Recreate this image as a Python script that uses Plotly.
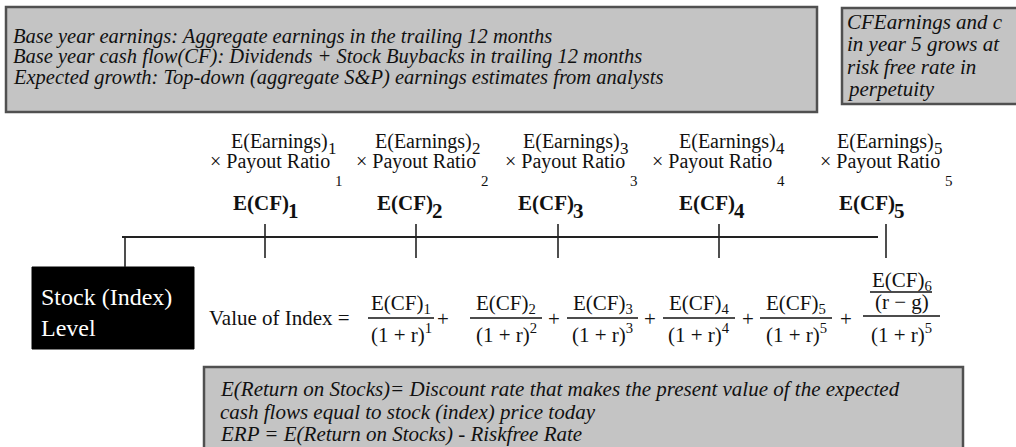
import plotly.graph_objects as go

W, H = 1016, 447

# ---- content ----
years = [1, 2, 3, 4, 5]
top_notes = [
    "Base year earnings: Aggregate earnings in the trailing 12 months",
    "Base year cash flow(CF): Dividends + Stock Buybacks in trailing 12 months",
    "Expected growth: Top-down (aggregate S&P) earnings estimates from analysts",
]
side_note = ["CFEarnings and c", "in year 5 grows at", "risk free rate in", "perpetuity"]
bottom_notes = [
    "E(Return on Stocks)= Discount rate that makes the present value of the expected",
    "cash flows equal to stock (index) price today",
    "ERP = E(Return on Stocks) - Riskfree Rate",
]
stock_label = ["Stock (Index)", "Level"]
formula_label = "Value of Index ="
earn_text = "E(Earnings)"
payout_text = "× Payout Ratio"
cf_text = "E(CF)"
denom_powers = [1, 2, 3, 4, 5]

# ---- layout positions ----
tick_x = [265, 416, 558, 719, 886]
earn_end = [329, 473, 621, 777, 935]
payout_end = [331, 477, 626, 773, 941]
cf_end = [287, 431, 572, 733, 893]
frac_x = [(368, 434), (470, 542), (567, 638), (663, 735), (760, 832)]
plus_x = [443, 554, 650, 748, 846]

SERIF = "Liberation Serif"
ink = "#111111"
box_fill = "#c4c4c4"
box_line = "#505050"

fig = go.Figure()
fig.add_trace(go.Scatter(x=[0, W], y=[0, H], mode="markers",
                         marker=dict(opacity=0), hoverinfo="skip", showlegend=False))

shapes = []
ann = []

def box(x0, y0, x1, y1, fill, line, lw=2):
    shapes.append(dict(type="rect", x0=x0, y0=y0, x1=x1, y1=y1, xref="x", yref="y",
                       fillcolor=fill, line=dict(color=line, width=lw), layer="below"))

def line(x0, y0, x1, y1, w=1.6, c="#222222"):
    shapes.append(dict(type="line", x0=x0, y0=y0, x1=x1, y1=y1, xref="x", yref="y",
                       line=dict(color=c, width=w)))

def text(x, y, s, size=16, xanchor="center", color=ink, family=SERIF):
    ann.append(dict(x=x, y=y, xref="x", yref="y", text=s, showarrow=False,
                    xanchor=xanchor, yanchor="middle", borderpad=0,
                    font=dict(family=family, size=size, color=color)))

# top boxes
box(6, 7, 817, 112, box_fill, box_line, lw=2.5)
for i, s in enumerate(top_notes):
    text(12, 36 + i * 20.5, "<i>" + s + "</i>", size=20.5, xanchor="left")

box(842, 8, 1022, 104, box_fill, box_line, lw=2.5)
for i, s in enumerate(side_note):
    text(846, 22 + i * 22.3, "<i>" + s + "</i>", size=21, xanchor="left")

# timeline
line(122, 237, 878, 237, w=2)
line(125, 237, 125, 267, w=1.6)
for tx in tick_x:
    line(tx, 224, tx, 258, w=1.6)

# column labels
for k, yr in enumerate(years):
    text(earn_end[k], 141, earn_text, size=20, xanchor="right")
    text(earn_end[k] - 2, 148, str(yr), size=17, xanchor="left")
    text(payout_end[k], 161, payout_text, size=20, xanchor="right")
    text(payout_end[k] + 3, 181, str(yr), size=15, xanchor="left")
    text(cf_end[k] + 3, 203, "<b>" + cf_text + "</b>", size=21, xanchor="right")
    text(cf_end[k], 211, "<b>%d</b>" % yr, size=21, xanchor="left")

# stock box
box(32, 267, 194, 349, "#000000", "#000000", lw=1)
text(40, 297, stock_label[0], size=24, xanchor="left", color="#ffffff")
text(40, 328, stock_label[1], size=24, xanchor="left", color="#ffffff")

# formula
text(208, 318, formula_label, size=21, xanchor="left")
for k, yr in enumerate(years):
    x0, x1 = frac_x[k]
    xc = (x0 + x1) / 2
    text(xc, 304, cf_text + "<sub>%d</sub>" % yr, size=21)
    line(x0, 318, x1, 318, w=1.3, c=ink)
    text(xc, 333, "(1 + r)<sup>%d</sup>" % denom_powers[k], size=21)
    text(plus_x[k], 319, "+", size=21)

# terminal value fraction
tx0, tx1 = 863, 940
txc = (tx0 + tx1) / 2
text(txc, 281, cf_text + "<sub>6</sub>", size=21)
line(870, 292, 932, 292, w=1.3, c=ink)
text(txc, 302, "(r − g)", size=21)
line(tx0, 316, tx1, 316, w=1.3, c=ink)
text(txc, 333, "(1 + r)<sup>%d</sup>" % denom_powers[-1], size=21)

# bottom box
box(204, 367, 963, 462, box_fill, box_line, lw=2.5)
for i, s in enumerate(bottom_notes):
    text(219, 389 + i * 22.5, "<i>" + s + "</i>", size=21, xanchor="left")

fig.update_layout(
    width=W, height=H,
    margin=dict(l=0, r=0, t=0, b=0),
    paper_bgcolor="white", plot_bgcolor="white",
    xaxis=dict(range=[0, W], visible=False, fixedrange=True),
    yaxis=dict(range=[H, 0], visible=False, fixedrange=True),
    shapes=shapes, annotations=ann, showlegend=False,
)

fig.write_html("out.html", config={"displayModeBar": False},
               post_script="document.body.style.margin='0px';document.body.style.overflow='hidden';")
